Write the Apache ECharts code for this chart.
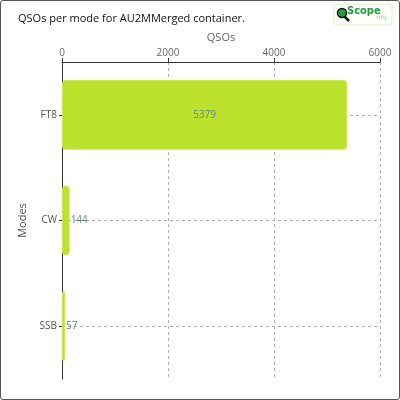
<!DOCTYPE html>
<html>

<head>
	<meta charset="utf-8">
	<title>qsos per mode</title>
	<script src="https://cdn.jsdelivr.net/npm/echarts@6/dist/echarts.min.js"></script>
	<style>
		body { margin: 0; }
		#chart {
			width: 398px;
			height: 398px;
			border: 1px solid #555;
			border-radius: 3px;
		}
	</style>
</head>

<body>
	<div id="chart"></div>
	<script>
		// data
		var modes = ['FT8', 'CW', 'SSB'];
		var qsos = [5379, 144, 57];
		var labelPos = ['inside', 'right', 'right'];
		var xTicks = [0, 2000, 4000, 6000];

		var chartDom = document.getElementById('chart');
		var myChart = echarts.init(chartDom);

		var barData = [];
		for (var i = 0; i < qsos.length; i++) {
			barData.push({
				value: qsos[i],
				label: { position: labelPos[i] }
			});
		}

		var fontFam = 'Open Sans';

		var option = {
			title: {
				text: 'QSOs per mode for AU2MMerged container.',
				left: 12,
				top: 7,
				textStyle: {
					fontFamily: fontFam,
					fontWeight: 'normal',
					fontSize: 11,
					color: '#111'
				}
			},
			graphic: [
				{
					type: 'rect',
					shape: { x: 333, y: 3, width: 58, height: 21, r: 3 },
					style: { fill: '#fff', stroke: '#e6ecc8', lineWidth: 1 }
				},
				{
					type: 'line',
					shape: { x1: 343, y1: 15, x2: 348, y2: 20 },
					style: { stroke: '#111', lineWidth: 2.5 }
				},
				{
					type: 'circle',
					shape: { cx: 341, cy: 12, r: 4.5 },
					style: { fill: '#2e9a3e', stroke: '#111', lineWidth: 1.5 }
				},
				{
					type: 'text',
					left: 346,
					top: 5,
					style: {
						text: 'Scope',
						fill: '#1f9a3a',
						font: 'bold 11px "DejaVu Sans Condensed", "DejaVu Sans"'
					}
				},
				{
					type: 'text',
					left: 374,
					top: 13,
					style: {
						text: '.org',
						fill: '#9cd08c',
						font: '6px "DejaVu Sans"'
					}
				}
			],
			grid: {
				left: 61,
				right: 19,
				top: 61,
				bottom: 20,
				containLabel: false
			},
			xAxis: {
				type: 'value',
				position: 'top',
				min: xTicks[0],
				max: xTicks[xTicks.length - 1],
				interval: 2000,
				name: 'QSOs',
				nameLocation: 'middle',
				nameGap: 17,
				nameTextStyle: { fontFamily: fontFam, fontSize: 11, color: '#666' },
				axisLine: { show: true, lineStyle: { color: '#333' } },
				axisTick: { show: true, length: 4, lineStyle: { color: '#333' } },
				axisLabel: {
					fontFamily: fontFam,
					fontSize: 10,
					color: '#666',
					margin: 4,
					formatter: function (v) { return String(v); }
				},
				splitLine: {
					show: true,
					lineStyle: { color: '#b0b0b0', type: [3, 3] }
				}
			},
			yAxis: {
				type: 'category',
				inverse: true,
				data: modes,
				name: 'Modes',
				nameLocation: 'middle',
				nameGap: 27,
				nameTextStyle: { fontFamily: fontFam, fontSize: 11, color: '#555' },
				axisLine: { show: true, lineStyle: { color: '#333' } },
				axisTick: { show: true, alignWithLabel: true, length: 3, lineStyle: { color: '#333' } },
				axisLabel: { fontFamily: fontFam, fontSize: 10, color: '#555', margin: 5 },
				splitLine: {
					show: true,
					alignWithLabel: true,
					lineStyle: { color: '#b0b0b0', type: [3, 3] }
				}
			},
			series: [{
				name: 'QSOs',
				type: 'bar',
				data: barData,
				barCategoryGap: '34%',
				itemStyle: {
					color: '#bde22e',
					borderColor: '#c8ea50',
					borderWidth: 1,
					borderRadius: 3
				},
				label: {
					show: true,
					fontFamily: fontFam,
					fontSize: 10,
					color: '#5d8a86',
					distance: 1
				}
			}]
		};

		myChart.setOption(option);
	</script>
</body>

</html>
